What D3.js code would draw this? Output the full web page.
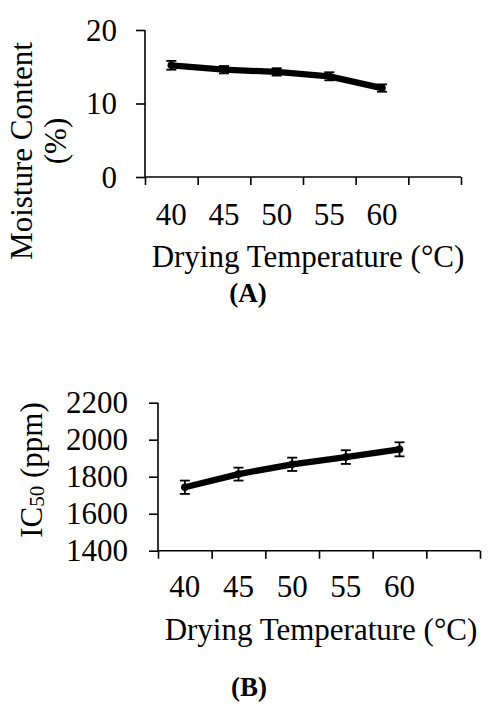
<!DOCTYPE html>
<html>
<head>
<meta charset="utf-8">
<script src="https://cdn.jsdelivr.net/npm/d3@7"></script>
<style>
  html, body { margin: 0; padding: 0; background: #fff; }
  svg { display: block; font-family: "Liberation Serif", "Times New Roman", serif; }
</style>
</head>
<body>
<svg id="chart" width="490" height="714"></svg>
<script>
// ---- data ----
const categories = ["40", "45", "50", "55", "60", ""];
const moisture = [15.2, 14.6, 14.3, 13.7, 12.1];
const moistureErr = [0.6, 0.5, 0.5, 0.55, 0.5];
const ic50 = [1743, 1814, 1867, 1906, 1948];
const ic50Err = [36, 35, 36, 37, 38];
const moistureTicks = [0, 10, 20];
const ic50Ticks = [1400, 1600, 1800, 2000, 2200];

const svg = d3.select("#chart");
const FS = 31;

function panel(cfg) {
  const g = svg.append("g");
  const xb = d3.scaleBand().domain(categories).range([cfg.x0, cfg.x1]).padding(0);
  const xl = d3.scaleLinear().domain([0, categories.length]).range([cfg.x0, cfg.x1]);
  const y = d3.scaleLinear().domain(cfg.ydom).range([cfg.y0, cfg.y1]);

  const ya = g.append("g").attr("transform", `translate(${cfg.x0},0)`)
    .call(d3.axisLeft(y).tickValues(cfg.yticks).tickSize(9).tickFormat(""));
  const xa = g.append("g").attr("transform", `translate(0,${cfg.y0})`)
    .call(d3.axisBottom(xl).tickValues(d3.range(categories.length + 1)).tickSize(8).tickFormat(""));
  [ya, xa].forEach(a => {
    a.selectAll("path.domain").attr("stroke", "#000").attr("stroke-width", 1.6);
    a.selectAll(".tick line").attr("stroke", "#000").attr("stroke-width", 1.6);
  });
  xa.select("path.domain").attr("d", `M${cfg.x0},0H${cfg.x1}`);
  ya.select("path.domain").attr("d", `M0,${y(cfg.ydom[1])}V${cfg.y0}`);

  g.selectAll("text.yt").data(cfg.yticks).enter().append("text")
    .attr("x", cfg.ylabX).attr("y", d => y(d)).attr("dy", "0.34em")
    .attr("text-anchor", "end").attr("font-size", FS).attr("fill", "#000")
    .text(d => d);
  g.selectAll("text.xt").data(categories).enter().append("text")
    .attr("x", d => xb(d) + xb.bandwidth() / 2).attr("y", cfg.y0 + cfg.xlabOff)
    .attr("text-anchor", "middle").attr("font-size", FS).attr("fill", "#000")
    .text(d => d);
  g.append("text").attr("x", cfg.xtX).attr("y", cfg.y0 + cfg.xtOff)
    .attr("text-anchor", "middle").attr("font-size", FS).attr("fill", "#000")
    .text("Drying Temperature (°C)");

  const vals = cfg.values;
  const pts = vals.map((v, i) => [xb(categories[i]) + xb.bandwidth() / 2, y(v)]);

  const eb = g.append("g").attr("stroke", "#000").attr("stroke-width", 1.8);
  vals.forEach((v, i) => {
    const cx = pts[i][0];
    const t = y(v + cfg.err[i]), b = y(v - cfg.err[i]);
    eb.append("line").attr("x1", cx).attr("x2", cx).attr("y1", t).attr("y2", b);
    eb.append("line").attr("x1", cx - 5).attr("x2", cx + 5).attr("y1", t).attr("y2", t);
    eb.append("line").attr("x1", cx - 5).attr("x2", cx + 5).attr("y1", b).attr("y2", b);
  });
  g.append("path").attr("d", d3.line()(pts)).attr("fill", "none")
    .attr("stroke", "#000").attr("stroke-width", 6.3).attr("stroke-linejoin", "round");
  g.selectAll("circle.pt").data(pts).enter().append("circle")
    .attr("cx", d => d[0]).attr("cy", d => d[1]).attr("r", 3.8).attr("fill", "#000");

  g.append("text").attr("x", cfg.lblX).attr("y", cfg.lblY)
    .attr("text-anchor", "middle").attr("font-size", 27).attr("font-weight", "bold")
    .attr("fill", "#000").text(cfg.label);
  return g;
}

const gA = panel({
  x0: 145, x1: 461, y0: 177, y1: 30, ydom: [0, 20], yticks: moistureTicks,
  values: moisture, err: moistureErr, ylabX: 117, xlabOff: 48, xtOff: 90, xtX: 308,
  lblX: 248, lblY: 302, label: "(A)"
});
const gB = panel({
  x0: 158, x1: 480, y0: 550.7, y1: 402.7, ydom: [1400, 2200], yticks: ic50Ticks,
  values: ic50, err: ic50Err, ylabX: 128, xlabOff: 46, xtOff: 89.3, xtX: 321,
  lblX: 249, lblY: 696, label: "(B)"
});

gA.append("text").attr("font-size", FS).attr("fill", "#000").attr("text-anchor", "middle")
  .attr("transform", "translate(32,151) rotate(-90)").text("Moisture Content");
gA.append("text").attr("font-size", FS).attr("fill", "#000").attr("text-anchor", "middle")
  .attr("transform", "translate(66,141) rotate(-90)").text("(%)");

const tB = gB.append("text").attr("font-size", FS).attr("fill", "#000")
  .attr("text-anchor", "middle").attr("transform", "translate(42,470) rotate(-90)");
tB.append("tspan").text("IC");
tB.append("tspan").attr("font-size", 21).attr("dy", 1.5).text("50");
tB.append("tspan").attr("dy", -1.5).text(" (ppm)");
</script>
</body>
</html>
